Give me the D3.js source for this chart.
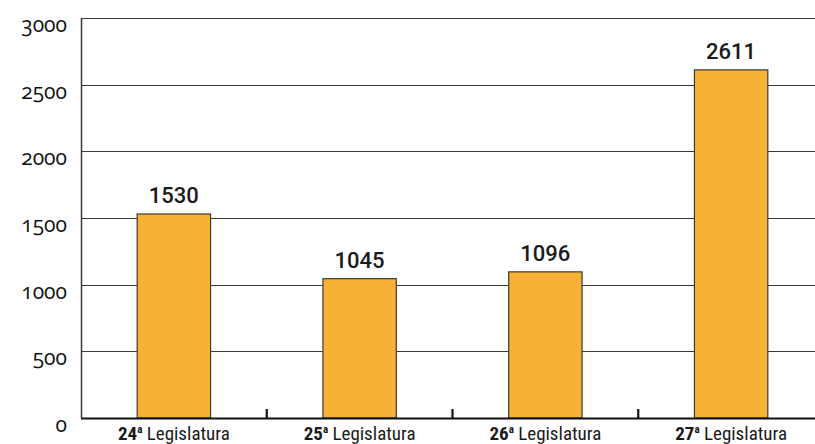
<!DOCTYPE html>
<html><head><meta charset="utf-8">
<script src="https://cdn.jsdelivr.net/npm/d3@7"></script>
<style>
body{margin:0;background:#fff;}
svg{display:block;}
.ytick{font-family:"Open Sans",Lato,sans-serif;font-size:21px;fill:#111;font-variant-numeric:oldstyle-nums;font-feature-settings:"onum" 1;}
.xlab{font-family:"Liberation Sans Narrow","Roboto Condensed","Noto Sans",sans-serif;font-size:19px;fill:#1a1a1a;}
.val{font-family:Roboto,sans-serif;font-size:22px;font-weight:500;fill:#1a1a1a;}
</style></head>
<body>
<svg id="c" width="815" height="444"></svg>
<script>
const categories = ["24","25","26","27"];
const values = [1530, 1045, 1096, 2611];
const yTicks = [0, 500, 1000, 1500, 2000, 2500, 3000];

(function(){
const svg = d3.select("#c");
const mL = 81, mR = 824, mT = 18, mB = 418;
const x = d3.scaleBand().domain(categories).range([mL, mR]).padding(0);
const y = d3.scaleLinear().domain([0, 3000]).range([mB, mT]);
const barW = x.bandwidth() * 0.395;

svg.append("g").selectAll("line").data(yTicks.filter(d => d > 0)).join("line")
  .attr("x1", mL).attr("x2", 815).attr("y1", d => Math.round(y(d)) + 0.5).attr("y2", d => Math.round(y(d)) + 0.5)
  .attr("stroke", "#3a3a3a").attr("stroke-width", 1.2);

svg.append("g").selectAll("text").data(yTicks).join("text")
  .attr("class", "ytick").attr("x", 67).attr("y", d => y(d) + 14)
  .attr("text-anchor", "end").text(d => d);

svg.append("g").selectAll("rect").data(values).join("rect")
  .attr("x", (d, i) => x(categories[i]) + x.bandwidth() / 2 - barW / 2)
  .attr("width", barW)
  .attr("y", d => y(d)).attr("height", d => y(0) - y(d))
  .attr("fill", "#F7B134").attr("stroke", "#3a3a3a").attr("stroke-width", 1.2);

svg.append("g").selectAll("text").data(values).join("text")
  .attr("class", "val")
  .attr("x", (d, i) => x(categories[i]) + x.bandwidth() / 2)
  .attr("y", d => y(d) - 11)
  .attr("text-anchor", "middle").text(d => d);

svg.append("line").attr("x1", mL + 0.5).attr("x2", mL + 0.5).attr("y1", mT).attr("y2", mB)
  .attr("stroke", "#3a3a3a").attr("stroke-width", 1.5);
svg.append("line").attr("x1", mL).attr("x2", 815).attr("y1", mB + 0.5).attr("y2", mB + 0.5)
  .attr("stroke", "#111").attr("stroke-width", 2);

svg.append("g").selectAll("line").data(categories.slice(1)).join("line")
  .attr("x1", d => x(d)).attr("x2", d => x(d)).attr("y1", mB - 9).attr("y2", mB)
  .attr("stroke", "#111").attr("stroke-width", 2.2);

const xl = svg.append("g").selectAll("text").data(categories).join("text")
  .attr("class", "xlab")
  .attr("x", d => x(d) + x.bandwidth() / 2)
  .attr("y", 440)
  .attr("text-anchor", "middle");
xl.append("tspan").attr("font-weight", "bold").text(d => d);
xl.append("tspan").attr("font-size", "11px").attr("font-weight", "bold").attr("dy", -7).text("a");
xl.append("tspan").attr("dy", 7).text(" Legislatura");
})();
</script>
</body></html>
